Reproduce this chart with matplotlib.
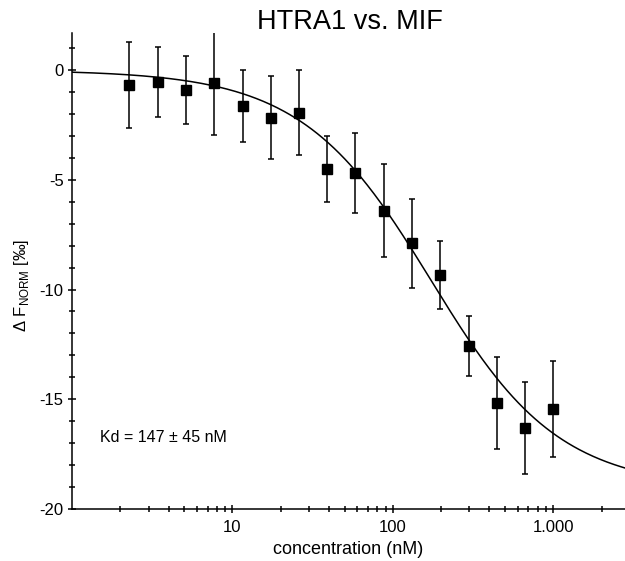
import numpy as np
import matplotlib
matplotlib.use('Agg')
import matplotlib.pyplot as plt

plt.rcParams['font.family'] = ['Liberation Sans', 'DejaVu Sans']
plt.rcParams['mathtext.fontset'] = 'custom'
plt.rcParams['mathtext.rm'] = 'Liberation Sans'
plt.rcParams['axes.unicode_minus'] = False

# concentration of MIF (nM) and response
conc = [2.28, 3.42, 5.13, 7.70, 11.6, 17.3, 26.0, 39.0, 58.5, 87.8,
        131.7, 197.5, 296.3, 444.4, 666.7, 1000.0]
fnorm = [-0.68, -0.55, -0.90, -0.60, -1.64, -2.17, -1.94, -4.50, -4.69, -6.41,
         -7.90, -9.35, -12.57, -15.17, -16.30, -15.44]
err = [1.95, 1.60, 1.55, 2.35, 1.65, 1.90, 1.93, 1.50, 1.80, 2.12,
       2.02, 1.55, 1.37, 2.10, 2.10, 2.20]

# Kd fit parameters
kd = 147.0
target = 50.0
amp = -19.1

xticks = [10, 100, 1000]
xticklabels = ['10', '100', '1.000']
yticks = [0, -5, -10, -15, -20]

fig = plt.figure(figsize=(6.25, 5.61), dpi=100)
ax = fig.add_axes([0.1152, 0.0927, 0.8848, 0.8485])

c = np.logspace(0, np.log10(2800), 400)
s = c + target + kd
frac = (s - np.sqrt(s**2 - 4*c*target)) / (2*target)
ax.plot(c, amp*frac, color='black', lw=1.1, zorder=2)

ax.errorbar(conc, fnorm, yerr=err, fmt='s', color='black', ms=7.5,
            capsize=2.5, elinewidth=1.1, capthick=1.1, zorder=3)

ax.set_xscale('log')
ax.set_xlim(1, 2800)
ax.set_ylim(-20, 1.69)

ax.spines['top'].set_visible(False)
ax.spines['right'].set_visible(False)
ax.spines['left'].set_linewidth(1.1)
ax.spines['bottom'].set_linewidth(1.1)

ax.set_xticks(xticks)
ax.set_xticklabels(xticklabels)
ax.set_xticks([m*10**d for d in range(0, 4) for m in range(2, 10) if m*10**d < 2800], minor=True)
ax.xaxis.set_minor_formatter(matplotlib.ticker.NullFormatter())
ax.set_yticks(yticks)
ax.set_yticks(range(-20, 2), minor=True)

ax.tick_params(which='major', direction='inout', length=6, width=1.1, labelsize=12)
ax.tick_params(axis='y', which='major', pad=3)
ax.tick_params(axis='x', which='major', pad=5)
ax.tick_params(which='minor', direction='inout', length=4, width=1.1)

ax.set_xlabel('concentration (nM)', fontsize=13, labelpad=4)
ax.set_ylabel('Δ F$_\\mathregular{NORM}$ [‰]', fontsize=12)
ax.yaxis.set_label_coords(-0.075, 0.47)

ax.text(100, 561 - 437, 'Kd = 147 ± 45 nM', transform=None, fontsize=11.5, va='center')
fig.text(350/625, 1 - 22/561, 'HTRA1 vs. MIF', ha='center', va='center', fontsize=19.5)

plt.savefig('out.png', dpi=100)
